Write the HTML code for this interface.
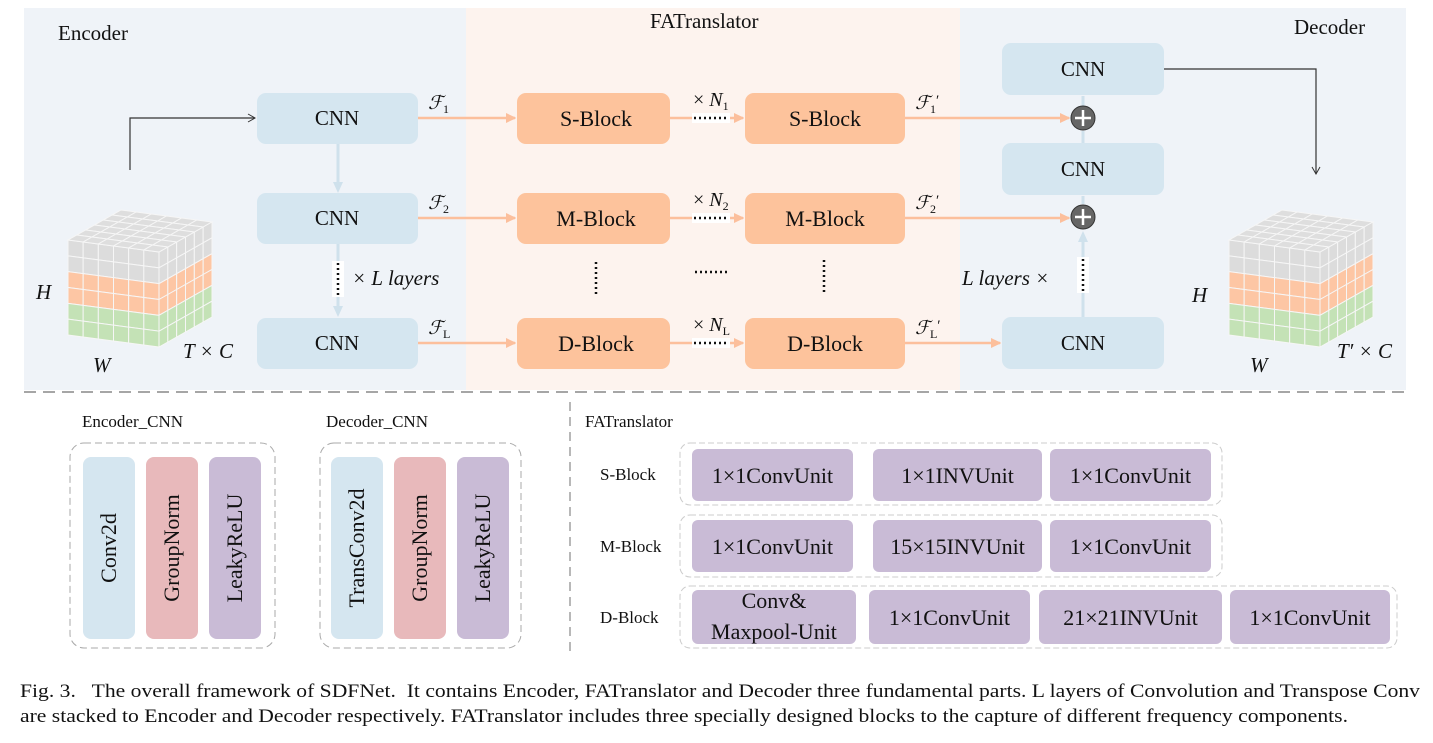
<!DOCTYPE html>
<html><head><meta charset="utf-8"><style>
html,body{margin:0;padding:0;background:#fff;}
svg{display:block;}
text{font-family:"Liberation Serif",serif;fill:#111;}
</style></head><body>
<svg id="fig" width="1433" height="743" viewBox="0 0 1433 743" xmlns="http://www.w3.org/2000/svg">
<defs>
<marker id="ao" markerWidth="10" markerHeight="10" refX="9" refY="5" orient="auto" markerUnits="userSpaceOnUse"><path d="M0,0 L14,5 L0,10 z" fill="#fcbf9c" transform="scale(0.75,1)"/></marker>
<marker id="ab" markerWidth="12" markerHeight="12" refX="6" refY="6" orient="auto" markerUnits="userSpaceOnUse"><path d="M0,1 L11,6 L0,11 z" fill="#cfe1ec"/></marker>
<marker id="ak" markerWidth="10" markerHeight="10" refX="8" refY="5" orient="auto" markerUnits="userSpaceOnUse"><path d="M1,1 L8,5 L1,9" fill="none" stroke="#333" stroke-width="1"/></marker>
</defs>
<rect x="24" y="8" width="442" height="382" fill="#eff3f8"/>
<rect x="466" y="8" width="494" height="382" fill="#fdf3ee"/>
<rect x="960" y="8" width="446" height="382" fill="#eff3f8"/>
<line x1="24" y1="392" x2="1410" y2="392" stroke="#888" stroke-width="1.5" stroke-dasharray="12,7"/>

<text x="58" y="40" font-size="21">Encoder</text>
<text x="650" y="28" font-size="21">FATranslator</text>
<text x="1294" y="34" font-size="21">Decoder</text>

<g id="cubes"></g>

<polyline points="130,170 130,118 255,118" fill="none" stroke="#333" stroke-width="1.2" marker-end="url(#ak)"/>
<polyline points="1164,69 1316,69 1316,174" fill="none" stroke="#333" stroke-width="1.2" marker-end="url(#ak)"/>

<line x1="338" y1="143" x2="338" y2="188" stroke="#cfe1ec" stroke-width="3" marker-end="url(#ab)"/>
<line x1="338" y1="243" x2="338" y2="312" stroke="#cfe1ec" stroke-width="3" marker-end="url(#ab)"/>
<rect x="332" y="261" width="12" height="36" fill="#fff"/>
<line x1="338" y1="263" x2="338" y2="296" stroke="#111" stroke-width="2.5" stroke-dasharray="2,3"/>
<text x="352" y="285" font-size="21" font-style="italic">× L  layers</text>

<line x1="1083" y1="317" x2="1083" y2="236" stroke="#cfe1ec" stroke-width="3" marker-end="url(#ab)"/>
<line x1="1083" y1="204" x2="1083" y2="196" stroke="#cfe1ec" stroke-width="3"/>
<line x1="1083" y1="143" x2="1083" y2="131" stroke="#cfe1ec" stroke-width="3"/>
<line x1="1083" y1="106" x2="1083" y2="96" stroke="#cfe1ec" stroke-width="3"/>
<rect x="1077" y="257" width="12" height="36" fill="#fff"/>
<line x1="1083" y1="259" x2="1083" y2="292" stroke="#111" stroke-width="2.5" stroke-dasharray="2,3"/>
<text x="962" y="285" font-size="21" font-style="italic">L  layers ×</text>

<g id="rows"></g>

<line x1="596" y1="262" x2="596" y2="295" stroke="#111" stroke-width="2.5" stroke-dasharray="2,3"/>
<line x1="824" y1="260" x2="824" y2="293" stroke="#111" stroke-width="2.5" stroke-dasharray="2,3"/>
<line x1="695" y1="272" x2="730" y2="272" stroke="#111" stroke-width="2.5" stroke-dasharray="2,3"/>

<g><circle cx="1083" cy="118" r="12" fill="#666" stroke="#333"/><path d="M1075,118h16M1083,110v16" stroke="#fff" stroke-width="2.5"/></g>
<g><circle cx="1083" cy="217" r="12" fill="#666" stroke="#333"/><path d="M1075,217h16M1083,209v16" stroke="#fff" stroke-width="2.5"/></g>

<text x="82" y="427" font-size="17">Encoder_CNN</text>
<rect x="70" y="443" width="205" height="205" rx="14" fill="none" stroke="#aaa" stroke-dasharray="7,4"/>
<text x="326" y="427" font-size="17">Decoder_CNN</text>
<rect x="320" y="443" width="201" height="205" rx="14" fill="none" stroke="#aaa" stroke-dasharray="7,4"/>
<g id="bars"></g>
<line x1="570" y1="402" x2="570" y2="656" stroke="#888" stroke-width="1.2" stroke-dasharray="9,6"/>
<text x="585" y="427" font-size="17">FATranslator</text>
<g id="units"></g>

<text x="20" y="697" font-size="19" textLength="1400" lengthAdjust="spacingAndGlyphs" xml:space="preserve">Fig. 3.   The overall framework of SDFNet.  It contains Encoder, FATranslator and Decoder three fundamental parts. L layers of Convolution and Transpose Conv</text>
<text x="20" y="722" font-size="19" textLength="1328" lengthAdjust="spacingAndGlyphs">are stacked to Encoder and Decoder respectively. FATranslator includes three specially designed blocks to the capture of different frequency components.</text>
</svg>
<script>
const NS='http://www.w3.org/2000/svg';
function mk(parent,tag,attrs,txt){const e=document.createElementNS(NS,tag);for(const k in attrs)e.setAttribute(k,attrs[k]);if(txt!==undefined)e.textContent=txt;parent.appendChild(e);return e;}
const rows=document.getElementById('rows');
const rowYs=[118,218,343];
const blockNames=['S-Block','M-Block','D-Block'];
const fSubs=['1','2','L'];
const nSubs=['1','2','L'];
rowYs.forEach((cy,i)=>{
  let r=mk(rows,'rect',{x:257,y:cy-25,width:161,height:51,rx:9,fill:'#d5e6f0'});
  
  
  mk(rows,'text',{x:337,y:cy+7,'font-size':21,'text-anchor':'middle'},'CNN');
  mk(rows,'line',{x1:418,y1:cy,x2:515,y2:cy,stroke:'#fcbf9c','stroke-width':2.5,'marker-end':'url(#ao)'});
  mk(rows,'line',{x1:670,y1:cy,x2:743,y2:cy,stroke:'#fcbf9c','stroke-width':2.5,'marker-end':'url(#ao)'});
  mk(rows,'rect',{x:692,y:cy-5,width:38,height:10,fill:'#fff'});
  mk(rows,'line',{x1:694,y1:cy,x2:729,y2:cy,stroke:'#111','stroke-width':2.5,'stroke-dasharray':'2,3'});
  const endX = i===2 ? 1000 : 1069;
  mk(rows,'line',{x1:905,y1:cy,x2:endX,y2:cy,stroke:'#fcbf9c','stroke-width':2.5,'marker-end':'url(#ao)'});
  let b1=mk(rows,'rect',{x:517,y:cy-25,width:153,height:51,rx:9,fill:'#fdc39c'});
  
  
  mk(rows,'text',{x:596,y:cy+8,'font-size':22,'text-anchor':'middle'},blockNames[i]);
  let b2=mk(rows,'rect',{x:745,y:cy-25,width:160,height:51,rx:9,fill:'#fdc39c'});
  
  
  mk(rows,'text',{x:825,y:cy+8,'font-size':22,'text-anchor':'middle'},blockNames[i]);
  let t=mk(rows,'text',{x:428,y:cy-9,'font-size':19,'font-style':'italic'},'ℱ');
  mk(t,'tspan',{'font-size':12,dy:4,'font-style':'normal'},fSubs[i]);
  let t2=mk(rows,'text',{x:915,y:cy-9,'font-size':19,'font-style':'italic'},'ℱ');
  mk(t2,'tspan',{'font-size':12,dy:4,'font-style':'normal'},fSubs[i]);
  mk(t2,'tspan',{'font-size':15,dy:-8,'font-style':'normal'},'′');
  let n=mk(rows,'text',{x:693,y:cy-12,'font-size':20},'× ');
  mk(n,'tspan',{'font-style':'italic'},'N');
  mk(n,'tspan',{'font-size':12,dy:4},nSubs[i]);
});
[69,169,343].forEach((cy,i)=>{
  let r=mk(rows,'rect',{x:1002,y:cy-26,width:162,height:52,rx:9,fill:'#d5e6f0'});
  
  
  mk(rows,'text',{x:1083,y:cy+7,'font-size':21,'text-anchor':'middle'},'CNN');
});

const cubes=document.getElementById('cubes');
function quad(g,P,u0,v0,u1,v1,fill){
  const f=(u,v)=>[P[0][0]+(P[1][0]-P[0][0])*u+(P[2][0]-P[0][0])*v, P[0][1]+(P[1][1]-P[0][1])*u+(P[2][1]-P[0][1])*v];
  const pts=[f(u0,v0),f(u1,v0),f(u1,v1),f(u0,v1)].map(p=>p.join(',')).join(' ');
  mk(g,'polygon',{points:pts,fill:fill,stroke:'#f6f6f6','stroke-width':1});
}
const rowColors=['#dcdcdc','#dcdcdc','#fdc6a4','#fdc6a4','#c4e2b6','#c4e2b6'];
function cube(ox,name){
  const g=mk(cubes,'g',{});
  
  
  const A=[ox,240],B=[ox+91,252],C=[ox+144,222],D=[ox+53,210],h=95;
  const N=6;
  for(let i=0;i<N;i++)for(let j=0;j<N;j++){
    quad(g,[D,C,A],i/N,j/N,(i+1)/N,(j+1)/N,'#dedede');
    quad(g,[A,B,[A[0],A[1]+h]],i/N,j/N,(i+1)/N,(j+1)/N,rowColors[j]);
    quad(g,[B,C,[B[0],B[1]+h]],i/N,j/N,(i+1)/N,(j+1)/N,rowColors[j]);
  }
}
cube(68,'input-tensor-cube');
cube(1229,'output-tensor-cube');
function lbl(x,y,s,name){const t=mk(cubes,'text',{x:x,y:y,'font-size':21,'font-style':'italic'},s);}
lbl(36,299,'H','input-h-label');lbl(93,372,'W','input-w-label');lbl(183,358,'T × C','input-tc-label');
lbl(1192,302,'H','output-h-label');lbl(1250,372,'W','output-w-label');lbl(1337,358,"T′ × C",'output-tc-label');

const bars=document.getElementById('bars');
const barDefs=[[83,'#d5e6f0','Conv2d'],[146,'#e8b9bb','GroupNorm'],[209,'#c9bbd6','LeakyReLU'],[331,'#d5e6f0','TransConv2d'],[394,'#e8b9bb','GroupNorm'],[457,'#c9bbd6','LeakyReLU']];
barDefs.forEach(([x,c,s])=>{
  let r=mk(bars,'rect',{x:x,y:457,width:52,height:182,rx:8,fill:c});
  
  
  mk(bars,'text',{x:0,y:0,'font-size':22,'text-anchor':'middle',transform:`translate(${x+33},548) rotate(-90)`},s);
});
const units=document.getElementById('units');
const unitRows=[
 {y:449,h:52,box:[680,443,542,62],label:'S-Block',items:[[692,161,'1×1ConvUnit'],[873,169,'1×1INVUnit'],[1050,161,'1×1ConvUnit']]},
 {y:520,h:52,box:[680,515,542,62],label:'M-Block',items:[[692,161,'1×1ConvUnit'],[873,169,'15×15INVUnit'],[1050,161,'1×1ConvUnit']]},
 {y:590,h:54,box:[680,586,717,62],label:'D-Block',items:[[692,164,'Conv&|Maxpool-Unit'],[869,161,'1×1ConvUnit'],[1039,183,'21×21INVUnit'],[1230,160,'1×1ConvUnit']]}
];
unitRows.forEach(row=>{
  const [bx,by,bw,bh]=row.box;
  let g=mk(units,'rect',{x:bx,y:by,width:bw,height:bh,rx:10,fill:'none',stroke:'#ccc','stroke-dasharray':'6,3'});
  
  
  mk(units,'text',{x:600,y:by+bh/2+6,'font-size':17},row.label);
  row.items.forEach(([x,w,s])=>{
    let r=mk(units,'rect',{x:x,y:row.y,width:w,height:row.h,rx:6,fill:'#c9bbd6'});
    
    
    const parts=s.split('|');
    if(parts.length===1){mk(units,'text',{x:x+w/2,y:row.y+row.h/2+8,'font-size':22,'text-anchor':'middle'},s);}
    else{mk(units,'text',{x:x+w/2,y:row.y+18,'font-size':22,'text-anchor':'middle'},parts[0]);mk(units,'text',{x:x+w/2,y:row.y+49,'font-size':22,'text-anchor':'middle'},parts[1]);}
  });
});
</script>
</body></html>
